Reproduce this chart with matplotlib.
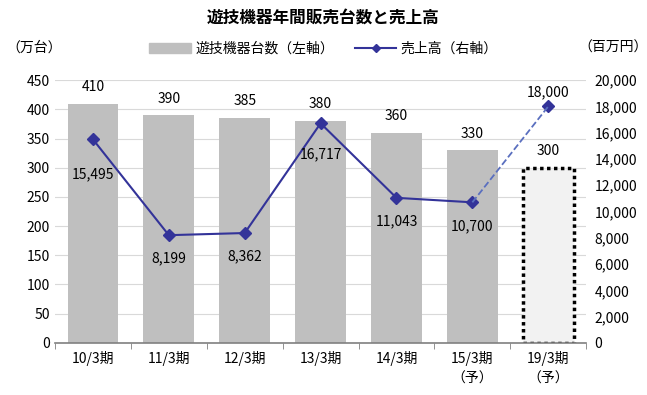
import numpy as np
from matplotlib import pyplot as plt
from matplotlib.ticker import FuncFormatter
from matplotlib.patches import Patch
from matplotlib.lines import Line2D

plt.rcParams['font.family'] = ['Noto Sans CJK JP', 'DejaVu Sans']

categories = ["10/3期", "11/3期", "12/3期", "13/3期", "14/3期", "15/3期\n（予）", "19/3期\n（予）"]
units = [410, 390, 385, 380, 360, 330, 300]          # 万台
sales = [15495, 8199, 8362, 16717, 11043, 10700, 18000]  # 百万円

# label placement for the sales values (points, negative = below marker)
sales_label_dy = [-25, -17, -17, -22, -17, -17, 10]

x = np.arange(len(categories))

fig = plt.figure(figsize=(6.47, 3.95), dpi=100)
ax = fig.add_axes([0.085, 0.132, 0.821, 0.665])
ax2 = ax.twinx()

# bars: actuals gray, last one forecast with dotted frame
ax.bar(x[:-1], units[:-1], width=0.67, color='#bfbfbf', zorder=2)
ax.bar(x[-1], units[-1], width=0.67, color='#f2f2f2', edgecolor='black',
       linewidth=2.5, linestyle=(0, (1, 1)), zorder=2)
for xi, v in zip(x, units):
    ax.annotate(str(v), (xi, v), xytext=(0, 12), textcoords='offset points',
                ha='center', va='center', fontsize=10)

ax.set_ylim(0, 450)
ax.set_yticks(np.arange(0, 451, 50))
ax.set_xlim(-0.5, len(categories) - 0.5)
ax.set_xticks(x)
ax.set_xticklabels(categories, fontsize=10, linespacing=1.5, va='top')
ax.set_xticks(np.arange(-0.5, len(categories), 1), minor=True)
ax.tick_params(axis='x', which='major', length=0, pad=6)
ax.tick_params(axis='x', which='minor', length=4, color='#808080')
ax.tick_params(axis='y', length=0, labelsize=10)
ax.grid(axis='y', color='#d9d9d9', linewidth=0.8, zorder=0)
for s in ['top', 'right', 'left']:
    ax.spines[s].set_visible(False)
ax.spines['bottom'].set_color('#808080')
ax.spines['bottom'].set_linewidth(1.2)

# line: solid for actuals, dashed to the forecast
ax2.plot(x[:-1], sales[:-1], color='#333399', marker='D', markersize=6,
         linewidth=1.5, zorder=3)
ax2.plot(x[-2:], sales[-2:], color='#5a6fbf', linestyle='--', linewidth=1.3, zorder=3)
ax2.plot(x[-1], sales[-1], color='#333399', marker='D', markersize=6, linestyle='none')
for xi, v, dy in zip(x, sales, sales_label_dy):
    ax2.annotate(f"{v:,}", (xi, v), xytext=(0, dy), textcoords='offset points',
                 ha='center', va='center', fontsize=10)

ax2.set_ylim(0, 20000)
ax2.set_yticks(np.arange(0, 20001, 2000))
ax2.yaxis.set_major_formatter(FuncFormatter(lambda v, p: f"{int(v):,}"))
ax2.tick_params(axis='y', length=0, labelsize=10, pad=6)
for s in ['top', 'right', 'left', 'bottom']:
    ax2.spines[s].set_visible(False)

# legend
handles = [Patch(color='#bfbfbf', label='遊技機器台数（左軸）'),
           Line2D([0], [0], color='#333399', marker='D', markersize=4, linewidth=1.5,
                  label='売上高（右軸）')]
fig.legend(handles=handles, loc='center', bbox_to_anchor=(0.5, 0.877), ncol=2,
           frameon=False, fontsize=10, handlelength=3, columnspacing=1.5,
           handletextpad=0.3)

fig.text(0.5, 0.955, "遊技機器年間販売台数と売上高", ha='center', va='center',
         fontsize=12, fontweight='bold')
fig.text(0.052, 0.88, "（万台）", ha='center', va='center', fontsize=10)
fig.text(0.948, 0.88, "（百万円）", ha='center', va='center', fontsize=10)

plt.savefig("out.png", dpi=100)
